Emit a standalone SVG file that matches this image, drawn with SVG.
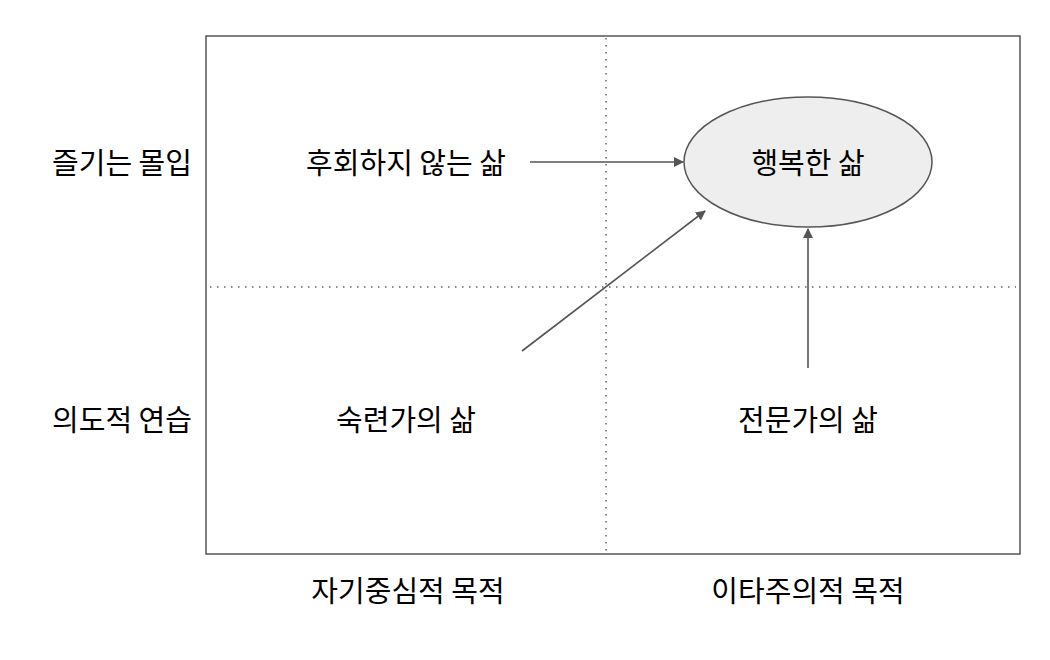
<svg xmlns="http://www.w3.org/2000/svg" width="1050" height="660" viewBox="0 0 1050 660">
<defs>
<style>
text{font-family:"Noto Sans CJK KR","Noto Sans",sans-serif;font-size:29px;fill:#000;text-anchor:middle;dominant-baseline:central}
.dot{stroke:#666;stroke-width:1.5;stroke-dasharray:1.5 5.5;fill:none}
.edge{stroke:#555;stroke-width:1.6;fill:none;marker-end:url(#ah)}
</style>
<marker id="ah" viewBox="0 0 10 10" refX="9" refY="5" markerWidth="10" markerHeight="10" markerUnits="userSpaceOnUse" orient="auto"><path d="M0,0L10,5L0,10Z" fill="#555"/></marker>
</defs>
<rect width="1050" height="660" fill="#fff"/>
<g id="frame">
<rect x="206" y="36" width="814" height="518" fill="none" stroke="#555" stroke-width="1.5"/>
<line class="dot" x1="606" y1="38" x2="606" y2="552"/>
<line class="dot" x1="210" y1="287" x2="1016" y2="287"/>
</g>
<g id="axis-labels">
<text x="122" y="161">즐기는 몰입</text>
<text x="122" y="418">의도적 연습</text>
<text x="408" y="589">자기중심적 목적</text>
<text x="808" y="589">이타주의적 목적</text>
</g>
<g id="connectors">
<line class="edge" x1="530" y1="162" x2="683" y2="162"/>
<line class="edge" x1="522" y1="351" x2="705" y2="211"/>
<line class="edge" x1="808" y1="368" x2="808" y2="229"/>
</g>
<g id="n-regret">
<text x="406" y="161">후회하지 않는 삶</text>
</g>
<g id="n-happy">
<ellipse cx="808" cy="162" rx="124" ry="65" fill="#eeeeee" stroke="#555" stroke-width="1.5"/>
<text x="808" y="161">행복한 삶</text>
</g>
<g id="n-skilled">
<text x="406" y="418">숙련가의 삶</text>
</g>
<g id="n-expert">
<text x="808" y="418">전문가의 삶</text>
</g>
</svg>
